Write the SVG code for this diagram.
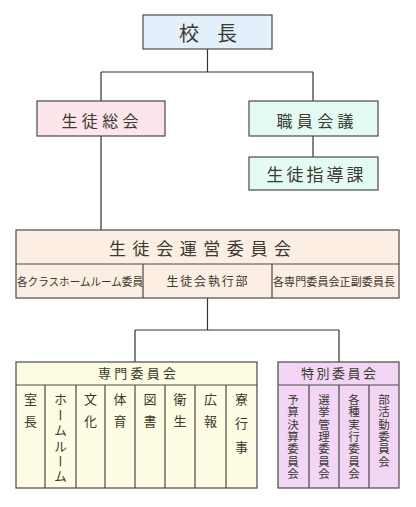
<svg xmlns="http://www.w3.org/2000/svg" width="416" height="507" viewBox="0 0 416 507">
<style>
.b{stroke:#4a4a44;stroke-width:1.2}
.t{font-family:"Noto Sans CJK JP","Noto Sans CJK SC",sans-serif;fill:#3a3a30}
.m{text-anchor:middle}
.v{writing-mode:vertical-rl;text-anchor:start;font-size:13px}
.w{writing-mode:vertical-rl;text-anchor:start;font-size:11.5px;letter-spacing:0.8px}
.c{stroke:#333;stroke-width:1.2;fill:none}
</style>
<rect width="416" height="507" fill="#fff"/>
<g id="connectors">
<path class="c" d="M207.5 49V72M101 72H313M101 72V101M313 72V101M313 136V157M101 136V230M207.5 298V330M135 330H339M135 330V362M339 330V362"/>
</g>
<g id="n-kocho">
<rect class="b" x="143" y="15" width="129" height="34" fill="#e4effc"/>
<text class="t m" x="208" y="41" font-size="20" textLength="58" lengthAdjust="spacing">校 長</text>
</g>
<g id="n-seitosokai">
<rect class="b" x="37" y="101" width="128" height="35" fill="#fde5eb"/>
<text class="t m" x="100" y="127" font-size="16" textLength="77" lengthAdjust="spacing">生徒総会</text>
</g>
<g id="n-shokuin">
<rect class="b" x="249" y="101" width="129" height="35" fill="#e4fbf3"/>
<text class="t m" x="315" y="127" font-size="16" textLength="77" lengthAdjust="spacing">職員会議</text>
</g>
<g id="n-shido">
<rect class="b" x="249" y="157" width="129" height="33" fill="#e4fbf3"/>
<text class="t m" x="315" y="181" font-size="17" textLength="97" lengthAdjust="spacing">生徒指導課</text>
</g>
<g id="n-unei">
<rect class="b" x="16" y="230" width="383" height="68" fill="#fdeee3"/>
<path class="b" d="M16 264H399M143 264V298M272 264V298"/>
<text class="t m" x="200" y="255" font-size="17" textLength="182" lengthAdjust="spacing">生徒会運営委員会</text>
<text class="t m" x="80" y="286" font-size="11" textLength="126" lengthAdjust="spacingAndGlyphs">各クラスホームルーム委員</text>
<text class="t m" x="207" y="286" font-size="12" textLength="81" lengthAdjust="spacing">生徒会執行部</text>
<text class="t m" x="334" y="286" font-size="11" textLength="122" lengthAdjust="spacing">各専門委員会正副委員長</text>
</g>
<g id="n-senmon">
<rect class="b" x="16" y="362" width="241" height="126" fill="#fefde3"/>
<path class="b" d="M16 385H257M45 385V488M76 385V488M105 385V488M135 385V488M165 385V488M195 385V488M226 385V488"/>
<text class="t m" x="137" y="378" font-size="13" textLength="78" lengthAdjust="spacing">専門委員会</text>
<text class="t v" x="30.5" y="393" letter-spacing="9">室長</text>
<text class="t v" x="60.5" y="393" letter-spacing="2.4">ホームルーム</text>
<text class="t v" x="90.5" y="393" letter-spacing="9">文化</text>
<text class="t v" x="120" y="393" letter-spacing="9">体育</text>
<text class="t v" x="150" y="393" letter-spacing="9">図書</text>
<text class="t v" x="180" y="393" letter-spacing="9">衛生</text>
<text class="t v" x="210.5" y="393" letter-spacing="9">広報</text>
<text class="t v" x="241.5" y="393" letter-spacing="11">寮行事</text>
</g>
<g id="n-tokubetsu">
<rect class="b" x="278" y="362" width="121" height="126" fill="#f3d6f6"/>
<path class="b" d="M278 385H399M309 385V488M339 385V488M369 385V488"/>
<text class="t m" x="338.5" y="378" font-size="13" textLength="75" lengthAdjust="spacing">特別委員会</text>
<text class="t w" x="293" y="394">予算決算委員会</text>
<text class="t w" x="324" y="394">選挙管理委員会</text>
<text class="t w" x="354" y="394">各種実行委員会</text>
<text class="t w" x="384" y="394">部活動委員会</text>
</g>
</svg>
